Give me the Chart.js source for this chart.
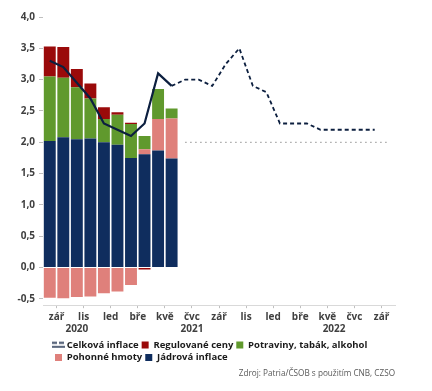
<!DOCTYPE html>
<html>
<head>
<meta charset="utf-8">
<script src="https://cdn.jsdelivr.net/npm/chart.js@4.4.0/dist/chart.umd.min.js"></script>
<style>
  html, body { margin: 0; padding: 0; background: #ffffff; }
</style>
</head>
<body>
<canvas id="chart" width="432" height="391"></canvas>
<script>
// months Aug 2020 .. Sep 2022
var months = ["srp", "zář", "říj", "lis", "pro", "led", "úno", "bře", "dub", "kvě", "čvn", "čvc",
  "srp", "zář", "říj", "lis", "pro", "led", "úno", "bře", "dub", "kvě", "čvn", "čvc", "srp", "zář"];
var years = ["2020", "2021", "2022"];
var yearFirst = [0, 5, 17];
var yearLast = [4, 16, 25];
var yTicks = [-0.5, 0, 0.5, 1, 1.5, 2, 2.5, 3, 3.5, 4];

var jadrova = [2.02, 2.08, 2.05, 2.06, 2.0, 1.96, 1.75, 1.81, 1.87, 1.74];
var pohonne = [-0.48, -0.49, -0.47, -0.46, -0.41, -0.38, -0.28, 0.08, 0.5, 0.64];
var potraviny = [1.03, 0.95, 0.83, 0.64, 0.37, 0.48, 0.54, 0.21, 0.48, 0.16];
var regulovane = [0.48, 0.49, 0.29, 0.24, 0.19, 0.04, 0.02, -0.03, 0, 0];
var celkova = [3.3, 3.2, 2.95, 2.7, 2.3, 2.2, 2.1, 2.3, 3.1, 2.9];
var prognoza = [null, null, null, null, null, null, null, null, null,
  2.9, 3.0, 3.0, 2.9, 3.25, 3.5, 2.9, 2.8, 2.3, 2.3, 2.3, 2.2, 2.2, 2.2, 2.2, 2.2];
var cil = [null, null, null, null, null, null, null, null, null, null,
  2, 2, 2, 2, 2, 2, 2, 2, 2, 2, 2, 2, 2, 2, 2, 2];

var legendOrder = ["Celková inflace", "Regulované ceny", "Potraviny, tabák, alkohol", "Pohonné hmoty", "Jádrová inflace"];
var font = "'Open Sans', sans-serif";
var navyLine = "#0c1f3f";

// legend icon: dashed + solid line
var lineIcon = document.createElement("canvas");
lineIcon.width = 13;
lineIcon.height = 7;
var g = lineIcon.getContext("2d");
g.strokeStyle = navyLine;
g.lineWidth = 1.5;
g.setLineDash([5, 2]);
g.beginPath(); g.moveTo(0, 1.5); g.lineTo(13, 1.5); g.stroke();
g.setLineDash([]);
g.beginPath(); g.moveTo(0, 5.5); g.lineTo(13, 5.5); g.stroke();

var extras = {
  id: "extras",
  beforeDraw: function (chart) {
    // legend rows start under the plot, not at the canvas edge
    chart.legend.left = 52;
  },
  afterDraw: function (chart) {
    var x = chart.scales.x;
    var ctx = chart.ctx;
    ctx.save();
    ctx.font = "bold 10px " + font;
    ctx.fillStyle = "#404040";
    ctx.textAlign = "center";
    ctx.textBaseline = "middle";
    for (var i = 0; i < years.length; i++) {
      var a = x.getPixelForValue(yearFirst[i]);
      var b = x.getPixelForValue(yearLast[i]);
      ctx.fillText(years[i], (a + b) / 2, x.bottom - 8);
    }
    ctx.restore();
  },
};

var config = {
  type: "bar",
  data: {
    labels: months,
    datasets: [
      { label: "Jádrová inflace", data: jadrova, backgroundColor: "#0f2d5e", order: 1 },
      { label: "Pohonné hmoty", data: pohonne, backgroundColor: "#df807b", order: 1 },
      { label: "Potraviny, tabák, alkohol", data: potraviny, backgroundColor: "#60992d", order: 1 },
      { label: "Regulované ceny", data: regulovane, backgroundColor: "#9a0a0a", order: 1 },
      {
        type: "line", label: "Celková inflace", data: celkova, stack: "celkova", order: 0,
        borderColor: navyLine, backgroundColor: navyLine, borderWidth: 2.2, pointRadius: 0, tension: 0,
      },
      {
        type: "line", label: "Prognóza", data: prognoza, stack: "prognoza", order: 0,
        borderColor: navyLine, borderWidth: 1.8, borderDash: [4, 3], pointRadius: 0, tension: 0,
      },
      {
        type: "line", label: "Cíl", data: cil, stack: "cil", order: 0,
        borderColor: "#a6a6a6", borderWidth: 1.2, borderDash: [1.5, 3.5], pointRadius: 0,
      },
    ],
  },
  options: {
    responsive: false,
    animation: false,
    layout: { padding: { top: 17, left: 16, right: 37, bottom: 12 } },
    datasets: { bar: { barPercentage: 0.88, categoryPercentage: 1 } },
    scales: {
      x: {
        stacked: true,
        grid: {
          offset: true,
          drawOnChartArea: false,
          tickLength: 3,
          color: function (c) { return c.index % 2 === 1 ? "#bfbfbf" : "rgba(0,0,0,0)"; },
        },
        border: { color: "#d9d9d9" },
        ticks: {
          autoSkip: false,
          maxRotation: 0,
          padding: 3,
          labelOffset: -6.75,
          color: "#404040",
          font: { family: font, size: 10, weight: "bold" },
          callback: function (v, i) { return i % 2 === 1 ? months[i] : ""; },
        },
        afterFit: function (scale) { scale.height += 11; },
      },
      y: {
        stacked: true,
        min: -0.6,
        max: 4,
        afterBuildTicks: function (scale) {
          scale.ticks = yTicks.map(function (v) { return { value: v }; });
        },
        afterFit: function (scale) { scale.width = 27; },
        grid: { drawOnChartArea: false, tickLength: 4, color: "#bfbfbf" },
        border: { display: false },
        ticks: {
          padding: 4,
          color: "#404040",
          font: { family: font, size: 10, weight: "bold" },
          callback: function (v) { return v.toFixed(1).replace(".", ","); },
        },
      },
    },
    plugins: {
      legend: {
        position: "bottom",
        align: "start",
        labels: {
          usePointStyle: true,
          boxWidth: 7,
          boxHeight: 7,
          padding: 3,
          color: "#1a1a1a",
          font: { family: font, size: 9.5, weight: "bold", lineHeight: 1 },
          filter: function (item) { return legendOrder.indexOf(item.text) >= 0; },
          sort: function (a, b) { return legendOrder.indexOf(a.text) - legendOrder.indexOf(b.text); },
          generateLabels: function (chart) {
            var items = Chart.defaults.plugins.legend.labels.generateLabels(chart);
            items.forEach(function (it) {
              it.pointStyle = it.text === "Celková inflace" ? lineIcon : "rect";
              it.lineWidth = 0;
            });
            return items;
          },
        },
      },
      title: {
        display: true,
        position: "bottom",
        align: "end",
        text: "Zdroj: Patria/ČSOB s použitím CNB, CZSO",
        color: "#595959",
        font: { family: font, size: 8.2, weight: "normal" },
        padding: { top: -3, bottom: 0 },
      },
      tooltip: { enabled: false },
    },
  },
  plugins: [extras],
};

new Chart(document.getElementById("chart").getContext("2d"), config);
</script>
</body>
</html>
